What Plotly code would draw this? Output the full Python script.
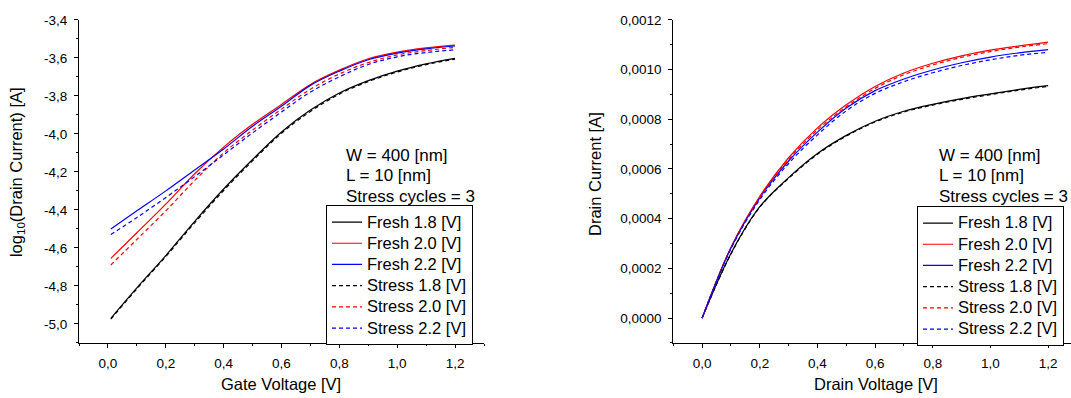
import plotly.graph_objects as go

# ---------------- data ----------------
# Transfer characteristics: log10(Id) versus gate voltage
gate_voltage = [0.01, 0.1, 0.2, 0.3, 0.4, 0.5, 0.6, 0.7, 0.8, 0.9, 1.0, 1.1, 1.2]
log_id_fresh_18 = [-4.97, -4.81, -4.64, -4.46, -4.29, -4.135, -3.99, -3.875, -3.785, -3.72, -3.67, -3.632, -3.603]
log_id_fresh_20 = [-4.655, -4.52, -4.37, -4.21, -4.07, -3.95, -3.845, -3.74, -3.665, -3.605, -3.57, -3.548, -3.533]
log_id_fresh_22 = [-4.50, -4.405, -4.30, -4.19, -4.08, -3.96, -3.855, -3.745, -3.67, -3.61, -3.575, -3.553, -3.538]
log_id_stress_18 = [-4.975, -4.815, -4.645, -4.468, -4.298, -4.142, -3.997, -3.882, -3.791, -3.725, -3.675, -3.636, -3.607]
log_id_stress_20 = [-4.69, -4.555, -4.405, -4.245, -4.10, -3.98, -3.87, -3.765, -3.685, -3.625, -3.585, -3.562, -3.545]
log_id_stress_22 = [-4.53, -4.44, -4.335, -4.225, -4.11, -3.995, -3.885, -3.78, -3.70, -3.635, -3.595, -3.572, -3.558]

# Output characteristics: drain current versus drain voltage
drain_voltage = [0.0, 0.1, 0.2, 0.3, 0.4, 0.5, 0.6, 0.7, 0.8, 0.9, 1.0, 1.1, 1.2]
id_fresh_18 = [0.0, 0.000260, 0.000448, 0.000565, 0.000662, 0.000735, 0.000792, 0.000832, 0.000860, 0.000883, 0.000902, 0.000920, 0.000935]
id_fresh_20 = [0.0, 0.000285, 0.000490, 0.000645, 0.000765, 0.000858, 0.000932, 0.000986, 0.001025, 0.001055, 0.001078, 0.001095, 0.001110]
id_fresh_22 = [0.0, 0.000282, 0.000484, 0.000632, 0.000748, 0.000845, 0.000915, 0.000962, 0.000998, 0.001027, 0.001050, 0.001067, 0.001080]
id_stress_18 = [0.0, 0.000258, 0.000446, 0.000562, 0.000659, 0.000732, 0.000789, 0.000829, 0.000857, 0.000880, 0.000899, 0.000917, 0.000932]
id_stress_20 = [0.0, 0.000283, 0.000485, 0.000638, 0.000757, 0.000850, 0.000924, 0.000979, 0.001018, 0.001049, 0.001072, 0.001090, 0.001104]
id_stress_22 = [0.0, 0.000279, 0.000477, 0.000622, 0.000737, 0.000834, 0.000904, 0.000951, 0.000987, 0.001016, 0.001039, 0.001057, 0.001069]

series_names = ["Fresh 1.8 [V]", "Fresh 2.0 [V]", "Fresh 2.2 [V]",
                "Stress 1.8 [V]", "Stress 2.0 [V]", "Stress 2.2 [V]"]

# tick positions and labels (comma decimal separator)
volt_ticks = [0.0, 0.2, 0.4, 0.6, 0.8, 1.0, 1.2]
volt_tick_text = ["0,0", "0,2", "0,4", "0,6", "0,8", "1,0", "1,2"]
volt_minor = [-0.1, 0.1, 0.3, 0.5, 0.7, 0.9, 1.1, 1.3]
log_ticks = [-5.0, -4.8, -4.6, -4.4, -4.2, -4.0, -3.8, -3.6, -3.4]
log_tick_text = ["-5,0", "-4,8", "-4,6", "-4,4", "-4,2", "-4,0", "-3,8", "-3,6", "-3,4"]
log_minor = [-5.1, -4.9, -4.7, -4.5, -4.3, -4.1, -3.9, -3.7, -3.5]
cur_ticks = [0.0, 0.0002, 0.0004, 0.0006, 0.0008, 0.0010, 0.0012]
cur_tick_text = ["0,0000", "0,0002", "0,0004", "0,0006", "0,0008", "0,0010", "0,0012"]
cur_minor = [-0.0001, 0.0001, 0.0003, 0.0005, 0.0007, 0.0009, 0.0011]

device_notes = ["W = 400 [nm]", "L = 10 [nm]", "Stress cycles = 3"]

# ---------------- styling ----------------
W, H = 1071, 398
FONT = "Liberation Sans, Arial, sans-serif"
colors = ["#000000", "#ff0000", "#0000ff"] * 2
dashes = ["solid"] * 3 + ["4px,3px"] * 3


def fx(px):
    return px / W


def fy(px):
    return 1 - px / H


def legend_label(name):
    # larger glyphs inside a legend whose row pitch follows its base font size
    return '<span style="font-size:16.5px">' + name + "</span>"


fig = go.Figure()

left_sets = [log_id_fresh_18, log_id_fresh_20, log_id_fresh_22,
             log_id_stress_18, log_id_stress_20, log_id_stress_22]
right_sets = [id_fresh_18, id_fresh_20, id_fresh_22,
              id_stress_18, id_stress_20, id_stress_22]

for name, ys, c, d in zip(series_names, left_sets, colors, dashes):
    fig.add_trace(go.Scatter(x=gate_voltage, y=ys, name=legend_label(name), mode="lines",
                             line=dict(color=c, width=1.2, dash=d, shape="spline"),
                             xaxis="x", yaxis="y", legend="legend"))
for name, ys, c, d in zip(series_names, right_sets, colors, dashes):
    fig.add_trace(go.Scatter(x=drain_voltage, y=ys, name=legend_label(name), mode="lines",
                             line=dict(color=c, width=1.2, dash=d, shape="spline"),
                             xaxis="x2", yaxis="y2", legend="legend2"))

tickfont = dict(family=FONT, size=13.5, color="#000000")
axis_common = dict(showgrid=False, zeroline=False, showline=True, linecolor="#000000",
                   linewidth=1, tickcolor="#000000", tickwidth=1, tickfont=tickfont,
                   tickmode="array")

y_dom = [fy(342), fy(13)]
left_x_dom = [fx(79), fx(484)]
right_x_dom = [fx(673.3), 1.0]
right_x_range = [-0.1, -0.1 + (W - 673.3) / 288.3]

legend_font = dict(family=FONT, size=14, color="#000000")

fig.update_layout(
    width=W, height=H,
    margin=dict(l=0, r=0, t=0, b=0),
    paper_bgcolor="white", plot_bgcolor="white",
    font=dict(family=FONT, color="#000000"),
    xaxis=dict(axis_common, domain=left_x_dom, anchor="y", range=[-0.1, 1.3],
               ticks="outside", ticklen=4, tickvals=volt_ticks, ticktext=volt_tick_text,
               ticklabelstandoff=4,
               minor=dict(tickmode="array", tickvals=volt_minor, ticks="outside", ticklen=2.5,
                          tickcolor="#000000", showgrid=False)),
    xaxis3=dict(axis_common, overlaying="x", anchor="y", side="top", range=[-0.1, 1.3],
                ticks="inside", ticklen=5, tickvals=volt_ticks, showticklabels=False,
                minor=dict(tickmode="array", tickvals=volt_minor, ticks="inside", ticklen=3,
                           tickcolor="#000000", showgrid=False)),
    yaxis=dict(axis_common, domain=y_dom, anchor="x", range=[-5.1, -3.4],
               ticks="outside", ticklen=4, tickvals=log_ticks, ticktext=log_tick_text,
               ticklabelstandoff=4,
               minor=dict(tickmode="array", tickvals=log_minor, ticks="outside", ticklen=2.5,
                          tickcolor="#000000", showgrid=False)),
    yaxis3=dict(axis_common, overlaying="y", anchor="x", side="right", range=[-5.1, -3.4],
                ticks="inside", ticklen=4, tickvals=log_ticks, showticklabels=False,
                minor=dict(tickmode="array", tickvals=log_minor, ticks="inside", ticklen=3,
                           tickcolor="#000000", showgrid=False)),
    xaxis2=dict(axis_common, domain=right_x_dom, anchor="y2", range=right_x_range,
                ticks="outside", ticklen=4, tickvals=volt_ticks, ticktext=volt_tick_text,
                ticklabelstandoff=4,
                minor=dict(tickmode="array", tickvals=volt_minor, ticks="outside", ticklen=2.5,
                           tickcolor="#000000", showgrid=False)),
    xaxis4=dict(axis_common, overlaying="x2", anchor="y2", side="top", range=right_x_range,
                ticks="inside", ticklen=5, tickvals=volt_ticks, showticklabels=False,
                minor=dict(tickmode="array", tickvals=volt_minor, ticks="inside", ticklen=3,
                           tickcolor="#000000", showgrid=False)),
    yaxis2=dict(axis_common, domain=y_dom, anchor="x2", range=[-0.0001, 0.0012],
                ticks="outside", ticklen=4, tickvals=cur_ticks, ticktext=cur_tick_text,
                ticklabelstandoff=4,
                minor=dict(tickmode="array", tickvals=cur_minor, ticks="outside", ticklen=2.5,
                           tickcolor="#000000", showgrid=False)),
    legend=dict(x=fx(326), y=fy(202), xanchor="left", yanchor="top",
                bgcolor="white", bordercolor="#000000", borderwidth=1,
                font=legend_font, tracegroupgap=0),
    legend2=dict(x=fx(917), y=fy(203), xanchor="left", yanchor="top",
                 bgcolor="white", bordercolor="#000000", borderwidth=1,
                 font=legend_font, tracegroupgap=0),
    showlegend=True,
)

title_font = dict(family=FONT, size=16.5, color="#000000")
annotations = [
    dict(text="Gate Voltage [V]", x=fx(281), y=fy(384), xref="paper", yref="paper",
         showarrow=False, font=title_font, xanchor="center", yanchor="middle"),
    dict(text="log<sub>10</sub>(Drain Current) [A]", x=fx(17), y=fy(168), xref="paper",
         yref="paper", showarrow=False, font=title_font, textangle=-90,
         xanchor="center", yanchor="middle"),
    dict(text="Drain Voltage [V]", x=fx(876), y=fy(384), xref="paper", yref="paper",
         showarrow=False, font=title_font, xanchor="center", yanchor="middle"),
    dict(text="Drain Current [A]", x=fx(595), y=fy(170), xref="paper", yref="paper",
         showarrow=False, font=title_font, textangle=-90,
         xanchor="center", yanchor="middle"),
]
note_font = dict(family=FONT, size=17, color="#000000")
for i, note in enumerate(device_notes):
    for left_px in (344, 937):
        annotations.append(dict(text=note, x=fx(left_px), y=fy(151 + 21 * i),
                                xref="paper", yref="paper", showarrow=False,
                                font=note_font, xanchor="left", yanchor="middle"))
fig.update_layout(annotations=annotations)

fig.write_html("out.html")
